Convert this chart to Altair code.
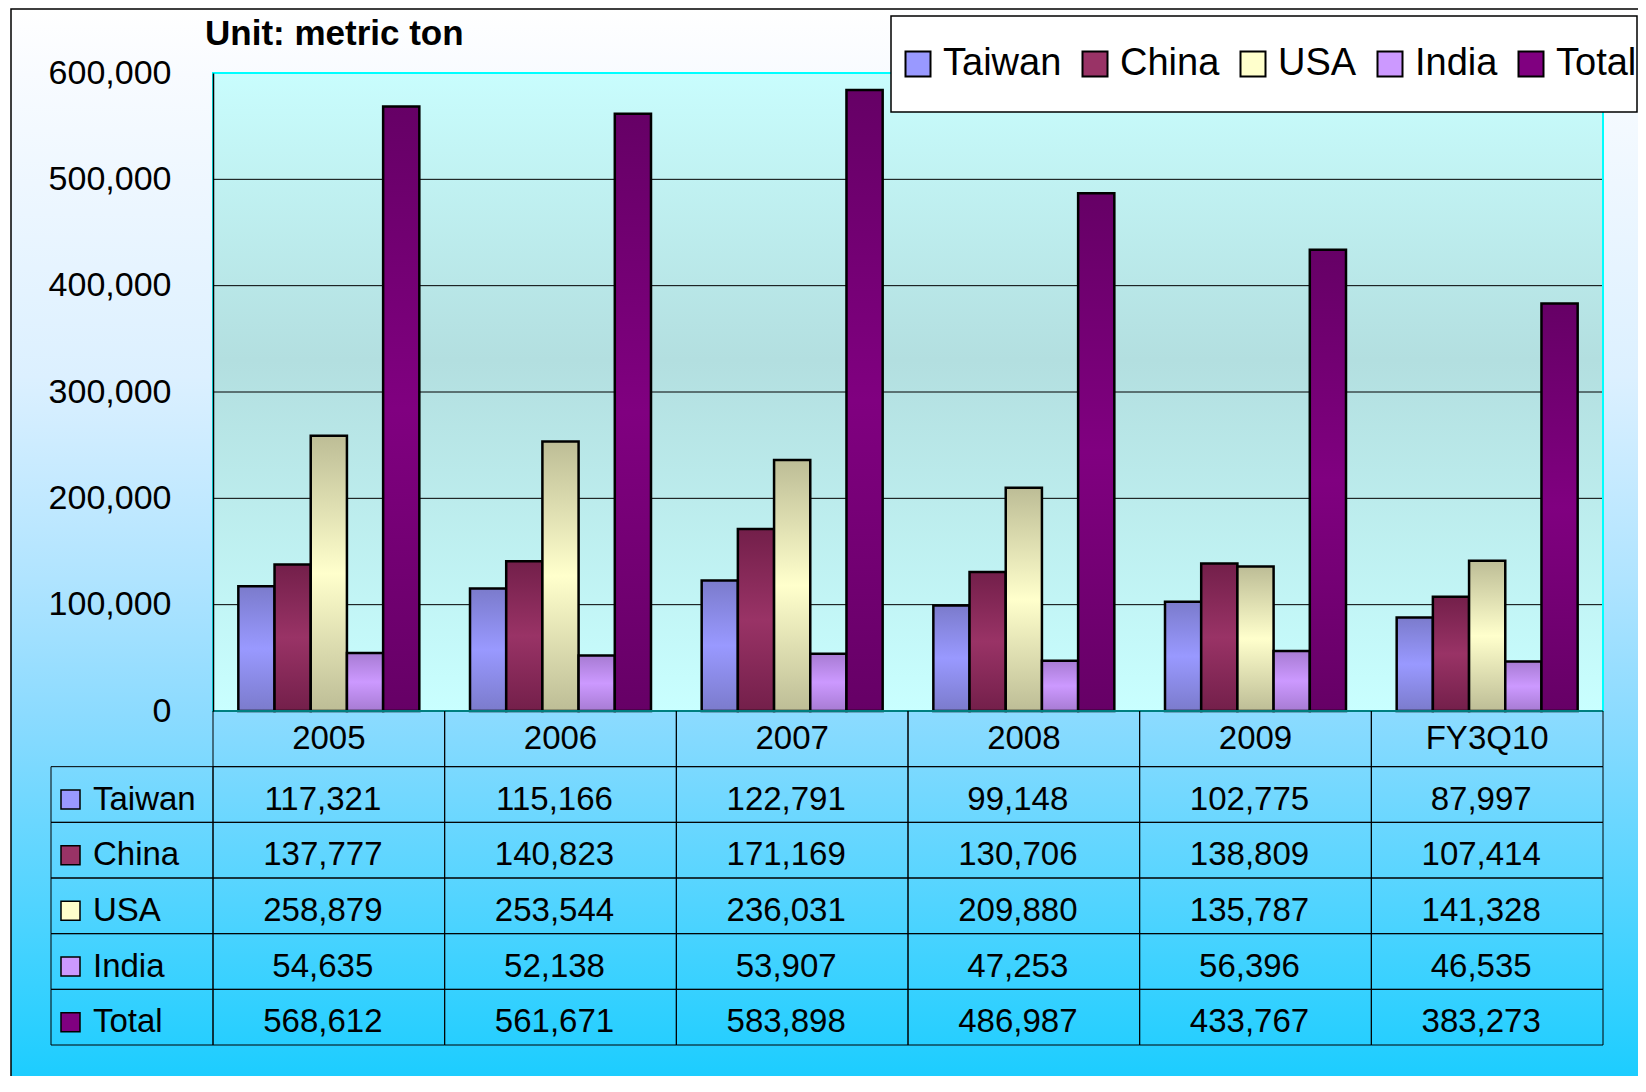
import altair as alt
import pandas as pd

# ---------------- data ----------------
categories = ["2005", "2006", "2007", "2008", "2009", "FY3Q10"]
series = ["Taiwan", "China", "USA", "India", "Total"]
taiwan = [117321, 115166, 122791, 99148, 102775, 87997]
china = [137777, 140823, 171169, 130706, 138809, 107414]
usa = [258879, 253544, 236031, 209880, 135787, 141328]
india = [54635, 52138, 53907, 47253, 56396, 46535]
total = [568612, 561671, 583898, 486987, 433767, 383273]
y_ticks = [0, 100000, 200000, 300000, 400000, 500000, 600000]
unit_title = "Unit: metric ton"

mid_colors = ["#9999ff", "#993366", "#ffffcc", "#cc99ff", "#800080"]
edge_colors = ["#7b7bcc", "#731f4a", "#bdbd96", "#a77bd3", "#660066"]

FONT = "Liberation Sans, Arial, sans-serif"
W, H = 1390, 638

values_by_series = dict(zip(series, [taiwan, china, usa, india, total]))
df = pd.DataFrame(
    [{"series": s, "cat": c, "value": v}
     for s in series for c, v in zip(categories, values_by_series[s])]
)
row_domain = ["header"] + series
cells_df = pd.DataFrame([{"row": r, "cat": c} for r in row_domain for c in categories])
header_df = pd.DataFrame({"row": ["header"] * len(categories), "cat": categories})
labels_df = pd.DataFrame({"series": series})
one = pd.DataFrame({"k": [0]})

# ---------------- scales ----------------
xsc = alt.Scale(type="band", domain=categories, paddingInner=0, paddingOuter=0)
ysc = alt.Scale(domain=[0, 600000], nice=False, zero=True)
trow = alt.Scale(type="band", domain=row_domain, range=[638, 972], paddingInner=0, paddingOuter=0)
yaxis = alt.Axis(values=y_ticks, format=",d", grid=False, ticks=False, labelPadding=42,
                 labelFontSize=34, labelFont=FONT, labelColor="black", domain=True,
                 domainColor="black", domainWidth=1.5, zindex=1, title=None)


def vgrad(stops):
    return alt.LinearGradient(
        gradient="linear", x1=0, y1=0, x2=0, y2=1,
        stops=[alt.GradientStop(color=c, offset=o) for o, c in stops])


# ---------------- backgrounds ----------------
outer_bg = alt.Chart(one).mark_rect(
    fill=vgrad([(0, "#ffffff"), (0.061, "#f8fbff"), (0.339, "#dcf0ff"), (0.526, "#b0e4ff"),
                (0.65, "#8cdbff"), (0.926, "#30d0ff"), (1, "#18ccff")]),
    stroke="black", strokeWidth=1.5,
).encode(x=alt.value(-202), x2=alt.value(1460), y=alt.value(-64), y2=alt.value(1019))

plot_bg = alt.Chart(one).mark_rect(
    fill=vgrad([(0, "#c9fdfd"), (0.45, "#b3dfe0"), (1, "#c9ffff")])
).encode(x=alt.value(0), x2=alt.value(W), y=alt.value(0), y2=alt.value(H))

# ---------------- bars ----------------
grid = alt.Chart(pd.DataFrame({"tick": y_ticks})).mark_rule(color="black", strokeWidth=1).encode(
    y=alt.Y("tick:Q", scale=ysc, axis=yaxis))

bar_layers = []
for s, mid, edge in zip(series, mid_colors, edge_colors):
    bar_layers.append(
        alt.Chart(df).transform_filter(alt.datum.series == s).mark_bar(
            fill=vgrad([(0, edge), (0.5, mid), (1, edge)]), stroke="black", strokeWidth=2.5
        ).encode(
            x=alt.X("cat:N", scale=xsc, axis=None),
            xOffset=alt.XOffset("series:N", scale=alt.Scale(domain=series, paddingInner=0, paddingOuter=0.7)),
            y=alt.Y("value:Q", scale=ysc, axis=yaxis),
        )
    )
bars = alt.layer(grid, *bar_layers)

plot_border = alt.Chart(one).mark_rect(fill="transparent", stroke="#00ffff", strokeWidth=2).encode(
    x=alt.value(0), x2=alt.value(W), y=alt.value(0), y2=alt.value(H))

# ---------------- data table ----------------
cells = alt.Chart(cells_df).mark_rect(fill="transparent", stroke="black", strokeWidth=1).encode(
    x=alt.X("cat:N", scale=xsc, axis=None),
    y=alt.Y("row:N", scale=trow, axis=None))

label_cells = alt.Chart(labels_df).mark_rect(fill="transparent", stroke="black", strokeWidth=1).encode(
    x=alt.value(-162), x2=alt.value(0),
    y=alt.Y("series:N", scale=trow, axis=None))

header_text = alt.Chart(header_df).mark_text(font=FONT, fontSize=33, color="black").encode(
    x=alt.X("cat:N", scale=xsc, axis=None),
    y=alt.Y("row:N", scale=trow, axis=None),
    text="cat:N")

num_text = alt.Chart(df).mark_text(font=FONT, fontSize=33, color="black", dx=-6, yOffset=5).encode(
    x=alt.X("cat:N", scale=xsc, axis=None),
    y=alt.Y("series:N", scale=trow, axis=None),
    text=alt.Text("value:Q", format=",d"))

row_text = alt.Chart(labels_df).mark_text(font=FONT, fontSize=33, color="black", align="left", yOffset=5).encode(
    x=alt.value(-120),
    y=alt.Y("series:N", scale=trow, axis=None),
    text="series:N")

swatches = alt.Chart(labels_df).mark_square(size=361, opacity=1, stroke="black", strokeWidth=1.5, yOffset=5).encode(
    x=alt.value(-142.5),
    y=alt.Y("series:N", scale=trow, axis=None),
    color=alt.Color("series:N", scale=alt.Scale(domain=series, range=mid_colors),
                    legend=alt.Legend(orient="none", legendX=686, legendY=-28, direction="horizontal",
                                      title=None, symbolType="square", symbolSize=625,
                                      symbolStrokeColor="black", symbolStrokeWidth=2,
                                      symbolOpacity=1, labelFont=FONT, labelFontSize=38,
                                      labelColor="black", labelOffset=6, columnPadding=14,
                                      padding=0, labelLimit=300)))

table = alt.layer(cells, label_cells, header_text, num_text, row_text, swatches)

# ---------------- legend box & title ----------------
legend_box = alt.Chart(one).mark_rect(fill="white", stroke="black", strokeWidth=1.5).encode(
    x=alt.value(678), x2=alt.value(1424), y=alt.value(-57), y2=alt.value(39))

title_text = alt.Chart(one).mark_text(text=unit_title, font=FONT, fontSize=35, fontWeight="bold",
                                      align="left", baseline="alphabetic", color="black").encode(
    x=alt.value(-8), y=alt.value(-28))

chart = alt.layer(outer_bg, plot_bg, bars, plot_border, table, legend_box, title_text).resolve_scale(
    y="independent"
).properties(
    width=W, height=H,
    autosize=alt.AutoSizeParams(type="none"),
    padding={"left": 205, "top": 65, "right": 35, "bottom": 365},
).configure_view(strokeWidth=0)

chart.save("out.html", embed_options={"renderer": "svg", "actions": False})
